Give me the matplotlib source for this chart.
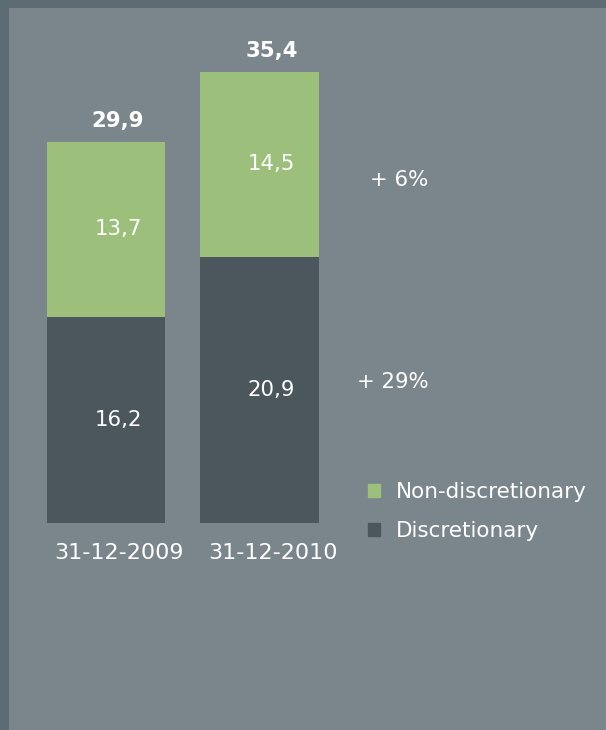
import matplotlib
matplotlib.use("Agg")
import matplotlib.pyplot as plt
from matplotlib.patches import Patch

categories = ["31-12-2009", "31-12-2010"]
discretionary = [16.2, 20.9]
non_discretionary = [13.7, 14.5]
totals = [29.9, 35.4]
growth_labels = ["+ 29%", "+ 6%"]

def fmt(v):
    return f"{v:.1f}".replace(".", ",")

W, H = 606, 730
fig = plt.figure(figsize=(W / 100, H / 100), dpi=100)
fig.patch.set_facecolor("#5d6b73")
ax = fig.add_axes([9 / W, 0, 1 - 9 / W, 1 - 8 / H])
ax.set_facecolor("#7b868c")
for s in ax.spines.values():
    s.set_visible(False)
ax.set_xticks([])
ax.set_yticks([])

green = "#9dbf7c"
dark = "#4b565d"
x = [0, 1]
ax.bar(x, discretionary, width=0.77, color=dark, label="Discretionary")
ax.bar(x, non_discretionary, width=0.77, bottom=discretionary, color=green, label="Non-discretionary")

ax.set_xlim((9 - 106) / 153.5, (606 - 106) / 153.5)
ax.set_ylim((523 - 730) / 12.74, (523 - 8) / 12.74)

fs = 15.3
for i in x:
    d, n = discretionary[i], non_discretionary[i]
    ax.annotate(fmt(d), (i, d / 2), xytext=(12, 0), textcoords="offset pixels",
                ha="center", va="center", color="white", fontsize=fs)
    ax.annotate(fmt(n), (i, d + n / 2), xytext=(12, 0), textcoords="offset pixels",
                ha="center", va="center", color="white", fontsize=fs)
    ax.annotate(fmt(totals[i]), (i, d + n), xytext=(12, 21), textcoords="offset pixels",
                ha="center", va="center", color="white", fontsize=fs, fontweight="bold")
    ax.annotate(categories[i], (i, 0), xytext=(13, -30), textcoords="offset pixels",
                ha="center", va="center", color="white", fontsize=16)

# growth labels, placed beside the second bar's segments
ax.annotate(growth_labels[0], (1, discretionary[1] / 2), xytext=(169, 8), textcoords="offset pixels",
            ha="right", va="center", color="white", fontsize=fs)
ax.annotate(growth_labels[1], (1, discretionary[1] + non_discretionary[1] / 2), xytext=(169, -16),
            textcoords="offset pixels", ha="right", va="center", color="white", fontsize=fs)

handles = [Patch(color=green, label="Non-discretionary"), Patch(color=dark, label="Discretionary")]
leg = ax.legend(handles=handles, loc="upper left", bbox_to_anchor=(368 / W, 1 - 482 / H),
                bbox_transform=fig.transFigure, frameon=False, fontsize=15.5,
                handlelength=0.58, handleheight=0.58, handletextpad=0.7, labelspacing=0.9,
                borderaxespad=0, borderpad=0)
for t in leg.get_texts():
    t.set_color("white")

fig.savefig("out.png", dpi=100, facecolor=fig.get_facecolor())
